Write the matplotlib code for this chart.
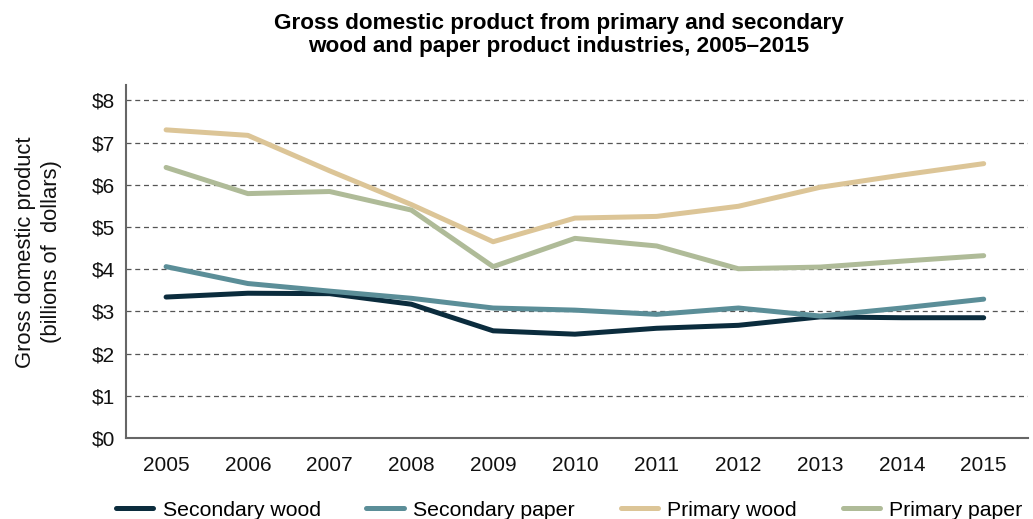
import matplotlib.pyplot as plt
import numpy as np

plt.rcParams['font.family'] = ['Liberation Sans', 'DejaVu Sans']

# ==========================================
# DATOS
# ==========================================

years = [2005, 2006, 2007, 2008, 2009, 2010, 2011, 2012, 2013, 2014, 2015]

secondary_wood = [3.34, 3.43, 3.42, 3.17, 2.54, 2.46, 2.60, 2.67, 2.87, 2.85, 2.85]
secondary_paper = [4.06, 3.66, 3.48, 3.31, 3.08, 3.03, 2.93, 3.08, 2.89, 3.08, 3.29]
primary_wood = [7.30, 7.17, 6.33, 5.53, 4.65, 5.21, 5.25, 5.49, 5.94, 6.23, 6.50]
primary_paper = [6.41, 5.79, 5.84, 5.40, 4.06, 4.73, 4.55, 4.01, 4.05, 4.19, 4.32]

series = [
    ("Secondary wood", secondary_wood, "#0b2c3d"),
    ("Secondary paper", secondary_paper, "#5b8e98"),
    ("Primary wood", primary_wood, "#dcc597"),
    ("Primary paper", primary_paper, "#afbb98"),
]

y_ticks = [0, 1, 2, 3, 4, 5, 6, 7, 8]

# ==========================================
# FIGURA
# ==========================================

fig = plt.figure(figsize=(10.33, 5.19), dpi=100)
ax = fig.add_axes([0.122, 0.156, 0.873, 0.68])

for nombre, valores, color in series:
    ax.plot(years, valores, color=color, linewidth=3.6,
            solid_capstyle='round', label=nombre)

ax.set_xlim(2004.51, 2015.54)
ax.set_ylim(0, 8.36)
ax.set_xticks(years)
ax.set_yticks(y_ticks)
ax.set_yticklabels([f"${v}" for v in y_ticks])
ax.tick_params(length=0, labelsize=15, colors="#111111", pad=8)
ax.tick_params(axis="x", pad=13)

for v in y_ticks[1:]:
    ax.axhline(v, color="#555555", linewidth=0.9, linestyle=(0, (4, 3)), zorder=0)

for lado in ["top", "right"]:
    ax.spines[lado].set_visible(False)
for lado in ["left", "bottom"]:
    ax.spines[lado].set_color("#666666")
    ax.spines[lado].set_linewidth(1.5)

ax.set_ylabel("Gross domestic product\n(billions of  dollars)", fontsize=15.8,
              color="#111111", linespacing=1.3)
ax.yaxis.set_label_coords(-0.071, 0.527)

fig.suptitle("Gross domestic product from primary and secondary\n"
             "wood and paper product industries, 2005\u20132015",
             x=0.541, y=0.975, va="top", fontsize=16.2, fontweight="bold",
             linespacing=1.15)

fig.legend(loc="lower left", bbox_to_anchor=(0.1, -0.026), ncol=4,
           frameon=False, fontsize=15.3, handlelength=1.75, columnspacing=2.15,
           handletextpad=0.45, borderpad=0.1)

fig.savefig("out.png", dpi=100)
